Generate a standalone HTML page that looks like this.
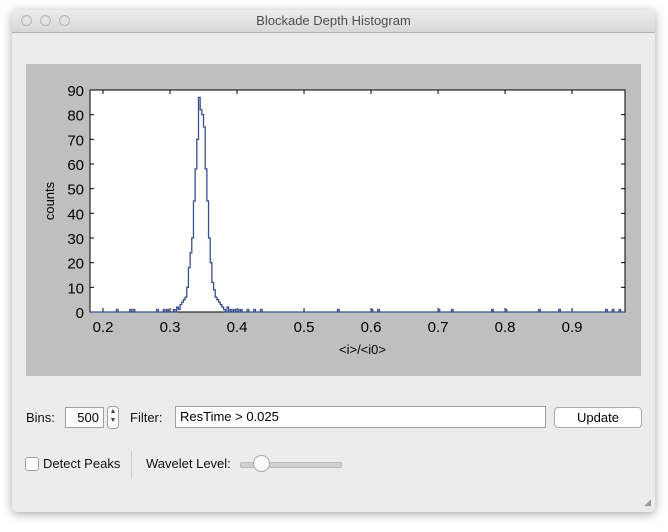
<!DOCTYPE html>
<html><head><meta charset="utf-8"><style>
body{margin:0;width:668px;height:532px;background:#fff;font-family:"Liberation Sans",sans-serif;position:relative;overflow:hidden}
.win{position:absolute;left:12px;top:10px;width:643px;height:502px;background:#ececec;border-radius:5px;box-shadow:0 2px 10px rgba(0,0,0,.35)}
.tb{position:absolute;left:0;top:0;width:643px;height:22px;background:linear-gradient(#ececec,#d8d8d8);border-bottom:1px solid #b0b0b0;border-radius:5px 5px 0 0;text-align:center;font-size:13px;line-height:22px;color:#4d4d4d}
.dot{position:absolute;top:5px;width:11px;height:11px;border-radius:50%;border:1px solid #b5b5b5;background:#e3e3e3;box-sizing:border-box}
.lbl{position:absolute;font-size:13px;color:#111}
.box{position:absolute;background:#fff;border:1px solid #a0a0a0;box-sizing:border-box;font-size:13px}
</style></head><body>
<div class="win">
<div class="tb">Blockade Depth Histogram
<div class="dot" style="left:9px"></div>
<div class="dot" style="left:28px"></div>
<div class="dot" style="left:47px"></div>
</div>
<svg style="position:absolute;left:14px;top:54px" width="615" height="312" id="chart"></svg>
<div class="lbl" style="left:14px;top:400px">Bins:</div>
<div class="box" style="left:53px;top:397px;width:39px;height:21px;text-align:right;padding-right:4px;line-height:19px">500</div>
<div class="box" style="left:95px;top:396px;width:12px;height:23px;border-radius:4px;font-size:7px;line-height:9px;text-align:center;color:#444">▲<br>▼</div>
<div class="lbl" style="left:118px;top:400px">Filter:</div>
<div class="box" style="left:163px;top:396px;width:371px;height:22px;padding-left:4px;line-height:20px">ResTime &gt; 0.025</div>
<div class="box" style="left:542px;top:397px;width:88px;height:21px;border-radius:4px;text-align:center;line-height:19px;border-color:#aaa">Update</div>
<div class="box" style="left:13px;top:447px;width:14px;height:14px;border-radius:3px"></div>
<div class="lbl" style="left:31px;top:446px">Detect Peaks</div>
<div style="position:absolute;left:119px;top:441px;width:1px;height:28px;background:#ccc"></div>
<div class="lbl" style="left:134px;top:446px">Wavelet Level:</div>
<div style="position:absolute;left:228px;top:452px;width:100px;height:4px;border-radius:2px;background:#d0d0d0;border:1px solid #bbb"></div>
<div style="position:absolute;left:241px;top:445px;width:17px;height:17px;border-radius:50%;background:#fafafa;border:1px solid #aaa;box-sizing:border-box"></div>
<div style="position:absolute;right:4px;bottom:4px;font-size:9px;color:#999">◢</div>
</div>
<script>
const binStarts=[0.22,0.24,0.245,0.28,0.29,0.295,0.305,0.31,0.3125,0.315,0.3175,0.32,0.3225,0.325,0.3275,0.33,0.3325,0.335,0.3375,0.34,0.3425,0.345,0.3475,0.35,0.3525,0.355,0.3575,0.36,0.3625,0.365,0.3675,0.37,0.3725,0.375,0.3775,0.38,0.385,0.39,0.395,0.4,0.405,0.415,0.425,0.435,0.55,0.6,0.61,0.7,0.72,0.78,0.8,0.85,0.88,0.95,0.96,0.97];
const binCounts=[1,1,1,1,1,1,1,2,1,3,4,5,6,10,18,24,30,45,58,70,87,82,80,75,58,45,30,20,12,9,6,5,4,3,2,1,2,1,1,1,1,1,1,1,1,1,1,1,1,1,1,1,1,1,1,1];
const binWidth=0.0025;
const xTicks=[0.2,0.3,0.4,0.5,0.6,0.7,0.8,0.9];
const yTicks=[0,10,20,30,40,50,60,70,80,90];
const NS="http://www.w3.org/2000/svg",svg=document.getElementById('chart');
const L=64,R=599,T=26,B=248,X0=0.1806,X1=0.979,Y1=90;
const sx=v=>L+(v-X0)/(X1-X0)*(R-L), sy=v=>B-v/Y1*(B-T);
function mk(t,a,txt){const e=document.createElementNS(NS,t);for(const k in a)e.setAttribute(k,a[k]);if(txt!=null)e.textContent=txt;svg.appendChild(e);return e;}
let e=mk('rect',{x:0,y:0,width:615,height:312,fill:'#bfbfbf'});


e=mk('rect',{x:L,y:T,width:R-L,height:B-T,fill:'#fff',stroke:'#000','stroke-width':1});


xTicks.forEach(v=>{const x=sx(v);
 e=mk('line',{x1:x,x2:x,y1:B,y2:B-4,stroke:'#000'});
 mk('line',{x1:x,x2:x,y1:T,y2:T+4,stroke:'#000'});
 e=mk('text',{x:x,y:B+20,'text-anchor':'middle','font-size':15,'font-family':'Liberation Sans'},v.toFixed(1));
 });
yTicks.forEach(v=>{const y=sy(v);
 e=mk('line',{x1:L,x2:L+4,y1:y,y2:y,stroke:'#000'});
 mk('line',{x1:R,x2:R-4,y1:y,y2:y,stroke:'#000'});
 e=mk('text',{x:L-6,y:y+6,'text-anchor':'end','font-size':15,'font-family':'Liberation Sans'},String(v));
 });
e=mk('text',{x:(L+R)/2+5,y:B+42,'text-anchor':'middle','font-size':13,'font-family':'Liberation Sans'},'<i>/<i0>');

e=mk('text',{x:0,y:0,'text-anchor':'middle','font-size':13,'font-family':'Liberation Sans',transform:`translate(28,${(T+B)/2}) rotate(-90)`},'counts');

let d=`M${sx(X0)},${sy(0)}`;
binStarts.forEach((b,i)=>{const x0=sx(b),x1=sx(b+binWidth),y=sy(binCounts[i]);
 const prevAdj=i>0&&Math.abs(binStarts[i-1]+binWidth-b)<1e-6;
 const nextAdj=i<binStarts.length-1&&Math.abs(b+binWidth-binStarts[i+1])<1e-6;
 if(!prevAdj)d+=` L${x0},${sy(0)}`;
 d+=` L${x0},${y} L${x1},${y}`;
 if(!nextAdj)d+=` L${x1},${sy(0)}`;});
d+=` L${R},${sy(0)}`;
e=mk('path',{d:d,fill:'none',stroke:'#3b4f8f','stroke-width':1.3});

</script>
</body></html>
